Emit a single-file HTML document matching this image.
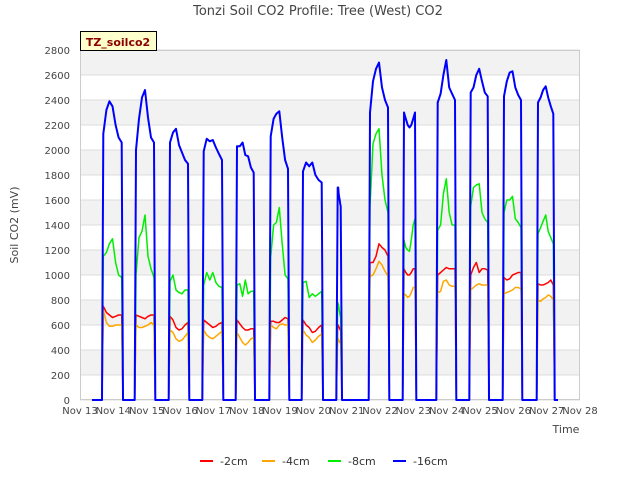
<!DOCTYPE html>
<html><head><meta charset="utf-8"><style>
body{margin:0;background:#fff;font-family:"Liberation Sans","DejaVu Sans",sans-serif}
svg text{font-family:"DejaVu Sans","Liberation Sans",sans-serif}
</style></head><body>
<svg id="c" width="640" height="480" xmlns="http://www.w3.org/2000/svg">
<rect width="640" height="480" fill="#fff"/>
<g id="grid"></g>
<g id="series"></g>
<g id="axes"></g>
<text x="318" y="15" text-anchor="middle" font-size="13" fill="#444">Tonzi Soil CO2 Profile: Tree (West) CO2</text>
<text transform="translate(18,225) rotate(-90)" text-anchor="middle" font-size="11" fill="#444">Soil CO2 (mV)</text>
<text x="566" y="433" text-anchor="middle" font-size="11" fill="#444">Time</text>
<g>
<rect x="80.5" y="31.5" width="76" height="19" fill="#ffffcc" stroke="#000"/>
<text x="118" y="46" text-anchor="middle" font-size="11" font-weight="bold" fill="#8b0000">TZ_soilco2</text></g>
<g id="legend"></g>
</svg>
<script>
const yTicks=[0,200,400,600,800,1000,1200,1400,1600,1800,2000,2200,2400,2600,2800];
const xTickDays=[13,14,15,16,17,18,19,20,21,22,23,24,25,26,27,28];
const xTickLabels=xTickDays.map(d=>"Nov "+d);
const segStart=[13.70,14.68,15.70,16.71,17.71,18.72,19.69,20.73,21.70,22.72,23.73,24.72,25.72,26.74];
const segEnd=[14.25,15.22,16.24,17.26,18.21,19.24,20.25,20.82,22.24,23.05,24.25,25.23,26.23,27.20];
const seriesNames=["-2cm","-4cm","-8cm","-16cm"];
const red=[[750,700,680,660,670,680,680],[680,670,660,650,670,680,680],[670,640,580,560,570,600,620],[640,620,600,580,590,610,620],[640,610,580,560,560,570,570],[630,630,620,620,640,660,650],[640,600,580,540,550,580,600],[600,600,590,580,570,560,560],[1100,1100,1150,1250,1220,1200,1150],[1050,1020,1000,1000,1020,1050,1050],[1000,1020,1040,1060,1050,1050,1050],[1000,1060,1100,1020,1050,1050,1040],[980,960,970,1000,1010,1020,1020],[930,920,920,930,940,960,920]];
const orange=[[720,620,590,590,600,600,600],[600,580,580,590,600,620,600],[560,540,490,470,480,510,540],[560,520,500,490,510,530,550],[540,500,460,440,460,490,500],[600,580,570,600,610,600,600],[560,520,500,460,480,510,530],[500,490,480,470,460,460,450],[990,1000,1050,1110,1080,1030,990],[850,840,820,830,860,900,900],[860,870,950,960,920,910,910],[880,900,920,930,920,920,920],[850,860,870,880,900,900,890],[800,790,810,820,840,830,800]];
const green=[[1150,1180,1250,1290,1100,1000,980],[1000,1300,1350,1480,1150,1050,980],[950,1000,880,860,850,880,880],[920,1020,960,1020,940,910,900],[920,930,830,960,850,870,870],[1140,1400,1420,1540,1250,1000,970],[940,950,820,850,830,850,870],[780,770,750,720,700,680,660],[1550,2050,2130,2170,1800,1600,1500],[1280,1220,1200,1190,1280,1400,1450],[1360,1400,1650,1770,1500,1400,1400],[1550,1700,1720,1730,1500,1450,1420],[1500,1600,1600,1630,1450,1420,1380],[1330,1380,1430,1480,1350,1300,1250]];
const blue=[[2130,2320,2390,2350,2200,2100,2060],[2000,2250,2420,2480,2260,2100,2060],[2060,2140,2170,2040,1980,1920,1890],[1990,2090,2070,2080,2020,1970,1920],[2030,2030,2060,1960,1950,1860,1820],[2110,2250,2290,2310,2100,1920,1850],[1830,1900,1870,1900,1800,1760,1740],[1700,1700,1650,1620,1600,1570,1550],[2300,2550,2650,2700,2500,2400,2340],[2300,2250,2200,2180,2200,2250,2300],[2380,2450,2600,2720,2500,2450,2400],[2460,2500,2600,2650,2550,2460,2430],[2430,2550,2620,2630,2500,2440,2400],[2380,2420,2480,2510,2420,2350,2290]];
const colors=["#ff0000","#ffa500","#00ee00","#0000ff"];
const dataStart=13.36, dataEnd=27.34;
const X0=80,X1=580,Y0=400,Y1=50;
const xs=d=>X0+(d-13)*(X1-X0)/15;
const ys=v=>Y0-v*(Y0-Y1)/2800;
const NS="http://www.w3.org/2000/svg";
function mk(p,t,a){const e=document.createElementNS(NS,t);for(const k in a)e.setAttribute(k,a[k]);p.appendChild(e);return e;}
const grid=document.getElementById('grid'),axes=document.getElementById('axes'),ser=document.getElementById('series'),leg=document.getElementById('legend');
for(let i=0;i<yTicks.length-1;i++){if(i%2===1){const r=mk(grid,'rect',{x:X0,y:ys(yTicks[i+1]),width:X1-X0,height:ys(yTicks[i])-ys(yTicks[i+1]),fill:'#f2f2f2'});

}}
yTicks.forEach(v=>{const l=mk(grid,'line',{x1:X0,x2:X1,y1:ys(v),y2:ys(v),stroke:'#dcdcdc'});


const t=mk(axes,'text',{x:X0-10,y:ys(v)+4,'text-anchor':'end','font-size':10,fill:'#444'});t.textContent=v;

});
mk(grid,'rect',{x:X0+0.5,y:Y1+0.5,width:X1-X0-1,height:Y0-Y1-1,fill:'none',stroke:'#ccc'});
xTickDays.forEach((d,i)=>{const t=mk(axes,'text',{x:xs(d),y:414,'text-anchor':'middle','font-size':10,fill:'#444'});t.textContent=xTickLabels[i];

});
[red,orange,green,blue].forEach((s,si)=>{
let pts=[[dataStart,0]];
s.forEach((vals,k)=>{const a=segStart[k],b=segEnd[k];pts.push([a-0.04,0]);
vals.forEach((v,j)=>pts.push([a+(b-a)*j/(vals.length-1),v]));pts.push([b+0.04,0]);});
pts.push([dataEnd,0]);
const p=mk(ser,'path',{d:'M'+pts.map(q=>xs(q[0]).toFixed(1)+','+ys(q[1]).toFixed(1)).join('L'),fill:'none',stroke:colors[si],'stroke-width':si===3?2:1.5,'stroke-linejoin':'round'});


const lx=[200,262,328,393][si];
const ll=mk(leg,'line',{x1:lx,x2:lx+13,y1:461,y2:461,stroke:colors[si],'stroke-width':2});


const lt=mk(leg,'text',{x:lx+20,y:465,'font-size':11,fill:'#333'});lt.textContent=seriesNames[si];


});
</script>
</body></html>
